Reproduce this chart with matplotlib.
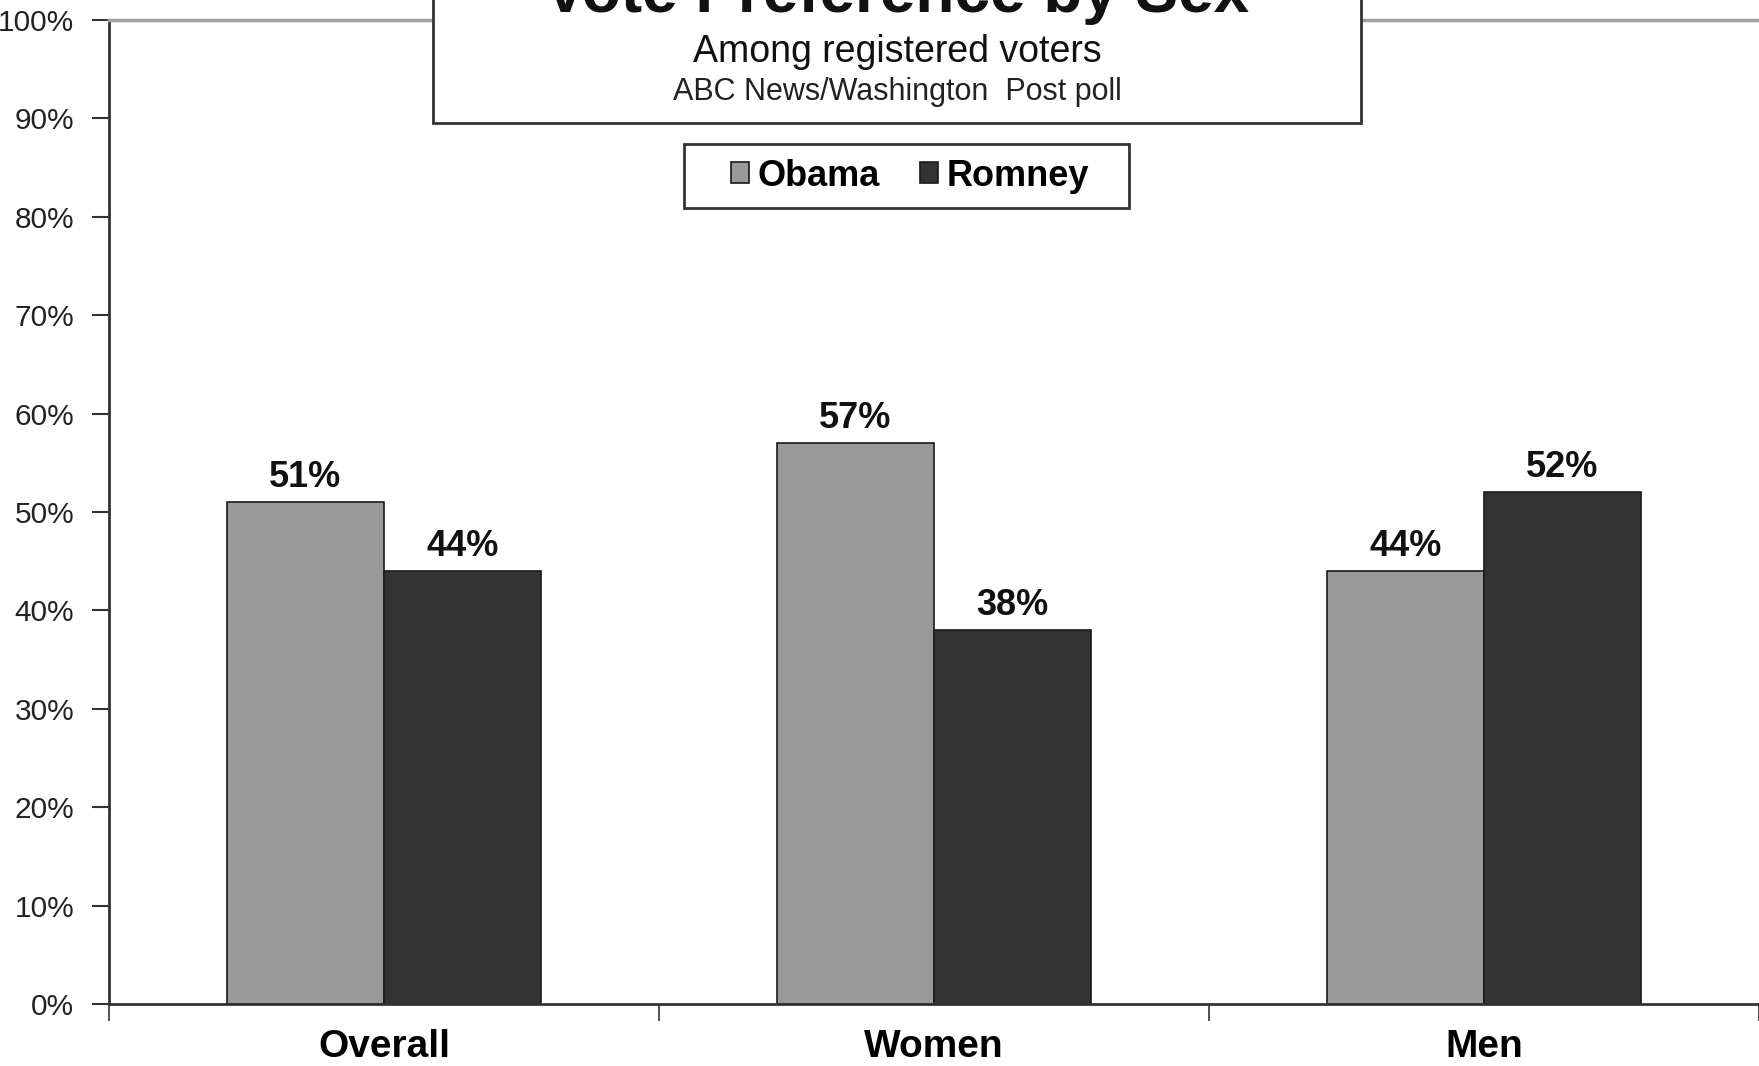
import matplotlib
matplotlib.use("Agg")
import matplotlib.pyplot as plt
from matplotlib.patches import Rectangle
from matplotlib.ticker import FuncFormatter, FixedLocator
import numpy as np

categories = ["Overall", "Women", "Men"]
obama = [51, 57, 44]
romney = [44, 38, 52]
series_names = ["Obama", "Romney"]
title = "Vote Preference by Sex"
subtitle1 = "Among registered voters"
subtitle2 = "ABC News/Washington  Post poll"

plt.rcParams['font.family'] = ['Liberation Sans', 'DejaVu Sans']

W, H = 1759, 1066
fig = plt.figure(figsize=(W / 100, H / 100), dpi=100)
ax = fig.add_axes([109 / W, (H - 1004) / H, (W - 109) / W, (1004 - 20) / H])

x = np.arange(len(categories))
w = 0.2857
b1 = ax.bar(x - w / 2, obama, w, color="#999999", edgecolor="#1a1a1a", linewidth=1.2, label=series_names[0])
b2 = ax.bar(x + w / 2, romney, w, color="#333333", edgecolor="#1a1a1a", linewidth=1.2, label=series_names[1])

for bars in (b1, b2):
    ax.bar_label(bars, labels=[f"{v}%" for v in bars.datavalues], padding=5,
                 fontsize=26, fontweight="bold", color="#111111")

ax.set_xlim(-0.5, len(categories) - 0.5)
ax.set_ylim(0, 100)
ax.set_yticks(np.arange(0, 101, 10))
ax.yaxis.set_major_formatter(FuncFormatter(lambda v, p: f"{v:.0f}%"))
ax.tick_params(axis="y", labelsize=21.5, length=12, width=1.5, color="#333333", pad=13, labelcolor="#222222")

ax.set_xticks(x)
ax.set_xticklabels(categories, fontsize=28, fontweight="bold")
ax.xaxis.set_minor_locator(FixedLocator(np.arange(-0.5, len(categories), 1.0)))
ax.tick_params(axis="x", which="major", length=0, pad=38)
ax.tick_params(axis="x", which="minor", length=12, width=1.2, color="#333333")
for lbl in ax.get_xticklabels():
    lbl.set_verticalalignment("baseline")

for s in ("left", "bottom"):
    ax.spines[s].set_color("#333333")
    ax.spines[s].set_linewidth(2)
ax.spines["right"].set_visible(False)
ax.spines["top"].set_color("#a0a0a0")
ax.spines["top"].set_linewidth(2.5)

# title box
fig.patches.append(Rectangle((433 / W, 1 - 123 / H), (1361 - 433) / W, 140 / H,
                             transform=fig.transFigure, facecolor="white",
                             edgecolor="#333333", linewidth=2, zorder=5))
cx = 897 / W
fig.text(cx, 1 - 12 / H, title, ha="center", va="baseline", fontsize=46,
         fontweight="bold", color="#111111", zorder=6)
fig.text(cx, 1 - 62 / H, subtitle1, ha="center", va="baseline", fontsize=27,
         color="#111111", zorder=6)
fig.text(cx, 1 - 100 / H, subtitle2, ha="center", va="baseline", fontsize=22,
         color="#222222", zorder=6)

# legend
fig.patches.append(Rectangle((684 / W, 1 - 208 / H), (1129 - 684) / W, 64 / H,
                             transform=fig.transFigure, facecolor="white",
                             edgecolor="#333333", linewidth=2, zorder=5))
leg = fig.legend(handles=[b1, b2], labels=series_names, loc="center",
                 bbox_to_anchor=(910 / W, 1 - 176 / H), ncol=2, frameon=False,
                 prop={"size": 26, "weight": "bold"}, handlelength=0.5,
                 handleheight=0.5, handletextpad=0.25, columnspacing=1.1,
                 borderpad=0.2)
leg.set_zorder(7)

fig.savefig("out.png", dpi=100, facecolor="white")
